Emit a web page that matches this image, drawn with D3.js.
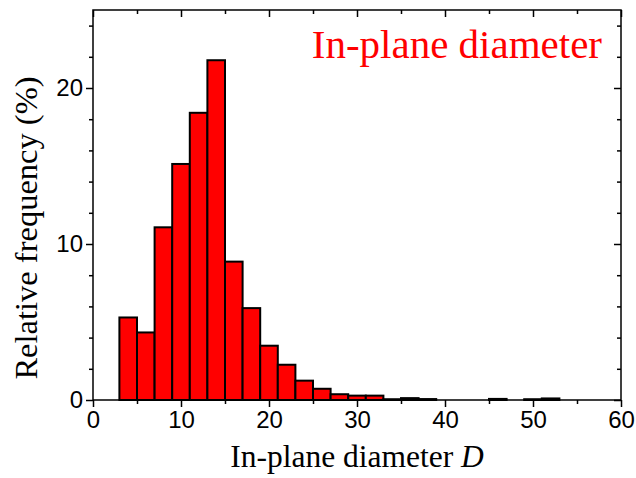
<!DOCTYPE html>
<html>
<head>
<meta charset="utf-8">
<script src="https://cdn.jsdelivr.net/npm/d3@7"></script>
<style>
  html, body { margin: 0; padding: 0; background: #fff; }
  svg { display: block; }
  .tick text { font-family: "Liberation Sans", Arial, sans-serif; font-size: 24px; fill: #000; }
  .tick line { stroke: #000; stroke-width: 1.5px; }
</style>
</head>
<body>
<svg id="chart" width="636" height="478"></svg>
<script>
// Histogram of in-plane diameter D: bins of width 2, starting at each value below
const binStarts = [3, 5, 7, 9, 11, 13, 15, 17, 19, 21, 23, 25, 27, 29, 31, 33, 35, 37, 39, 41, 43, 45, 47, 49, 51];
const frequency = [5.29, 4.33, 11.07, 15.13, 18.41, 21.78, 8.87, 5.89, 3.48, 2.26, 1.24, 0.72, 0.37, 0.28, 0.28, 0.05, 0.12, 0.06, 0, 0, 0, 0.07, 0, 0.05, 0.10];
const binWidth = 2;

const xMajorTicks = [0, 10, 20, 30, 40, 50, 60];
const xMinorTicks = [5, 15, 25, 35, 45, 55];
const yMajorTicks = [0, 10, 20];
const yMinorTicks = [2, 4, 6, 8, 12, 14, 16, 18, 22, 24];

const titleText = "In-plane diameter";
const xLabelText = "In-plane diameter ";
const xLabelVar = "D";
const yLabelText = "Relative frequency (%)";

const svg = d3.select("#chart");
const plotLeft = 93, plotRight = 621, plotTop = 10, plotBottom = 400;

const x = d3.scaleLinear().domain([0, 60]).range([plotLeft, plotRight]);
const y = d3.scaleLinear().domain([0, 25]).range([plotBottom, plotTop]);

const bins = binStarts.map((s, i) => ({ x0: s, x1: s + binWidth, v: frequency[i] }))
  .filter(d => d.v > 0);

// bars
svg.append("g").selectAll("rect")
  .data(bins)
  .join("rect")
  .attr("x", d => x(d.x0))
  .attr("y", d => y(d.v))
  .attr("width", d => x(d.x1) - x(d.x0))
  .attr("height", d => y(0) - y(d.v))
  .attr("fill", "#ff0000")
  .attr("stroke", "#000")
  .attr("stroke-width", 2);

function cleanAxis(g) {
  g.select(".domain").remove();
}

// bottom axis (outward ticks)
svg.append("g").attr("transform", `translate(0,${plotBottom})`)
  .call(d3.axisBottom(x).tickValues(xMajorTicks).tickSize(7).tickPadding(4).tickFormat(d3.format("d")))
  .call(cleanAxis);
svg.append("g").attr("transform", `translate(0,${plotBottom})`)
  .call(d3.axisBottom(x).tickValues(xMinorTicks).tickSize(4).tickFormat(""))
  .call(cleanAxis);

// top axis (inward ticks)
svg.append("g").attr("transform", `translate(0,${plotTop})`)
  .call(d3.axisBottom(x).tickValues(xMajorTicks).tickSize(7).tickFormat(""))
  .call(cleanAxis);
svg.append("g").attr("transform", `translate(0,${plotTop})`)
  .call(d3.axisBottom(x).tickValues(xMinorTicks).tickSize(4).tickFormat(""))
  .call(cleanAxis);

// left axis (outward ticks)
svg.append("g").attr("transform", `translate(${plotLeft},0)`)
  .call(d3.axisLeft(y).tickValues(yMajorTicks).tickSize(7).tickPadding(3).tickFormat(d3.format("d")))
  .call(cleanAxis);
svg.append("g").attr("transform", `translate(${plotLeft},0)`)
  .call(d3.axisLeft(y).tickValues(yMinorTicks).tickSize(4).tickFormat(""))
  .call(cleanAxis);

// right axis (inward ticks)
svg.append("g").attr("transform", `translate(${plotRight},0)`)
  .call(d3.axisLeft(y).tickValues(yMajorTicks).tickSize(7).tickFormat(""))
  .call(cleanAxis);
svg.append("g").attr("transform", `translate(${plotRight},0)`)
  .call(d3.axisLeft(y).tickValues(yMinorTicks).tickSize(4).tickFormat(""))
  .call(cleanAxis);

// frame
svg.append("rect")
  .attr("x", plotLeft).attr("y", plotTop)
  .attr("width", plotRight - plotLeft).attr("height", plotBottom - plotTop)
  .attr("fill", "none").attr("stroke", "#000").attr("stroke-width", 1.5);

// in-plot title
svg.append("text")
  .attr("x", 602).attr("y", 58)
  .attr("text-anchor", "end")
  .attr("font-family", "'Liberation Serif', 'Times New Roman', serif")
  .attr("font-size", 41)
  .attr("fill", "#ff0000")
  .text(titleText);

// x label
const xl = svg.append("text")
  .attr("x", 357).attr("y", 467)
  .attr("text-anchor", "middle")
  .attr("font-family", "'Liberation Serif', 'Times New Roman', serif")
  .attr("font-size", 31.5)
  .attr("fill", "#000");
xl.append("tspan").text(xLabelText);
xl.append("tspan").attr("font-style", "italic").text(xLabelVar);

// y label
svg.append("text")
  .attr("transform", `translate(37,228) rotate(-90)`)
  .attr("text-anchor", "middle")
  .attr("font-family", "'Liberation Serif', 'Times New Roman', serif")
  .attr("font-size", 32.5)
  .attr("fill", "#000")
  .text(yLabelText);
</script>
</body>
</html>
